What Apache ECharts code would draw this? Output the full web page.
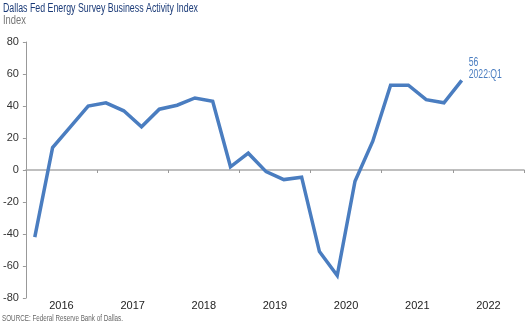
<!DOCTYPE html>
<html>
<head>
<meta charset="utf-8">
<script src="https://cdn.jsdelivr.net/npm/echarts@6/dist/echarts.min.js"></script>
<style>
  html, body { margin: 0; padding: 0; background: #fff; }
  #chart { width: 525px; height: 325px; }
</style>
</head>
<body>
<div id="chart"></div>
<script>
// Business activity index, quarterly, 2016:Q1 through 2022:Q1
const years = ['2016', '2017', '2018', '2019', '2020', '2021', '2022'];
const quarters = [];
years.forEach(function (y) { for (let q = 1; q <= 4; q++) quarters.push(y + ':Q' + q); });
const activity = [
  -42, 14, 27, 40,
  42, 37, 27, 38,
  40.5, 45, 43, 2,
  10.5, -1, -6, -4.5,
  -51, -66, -7, 18,
  53, 53, 44, 42,
  56
];
const yTicks = { min: -80, max: 80, step: 20 };
const lastIdx = activity.length - 1;

const FAMILY = '"Liberation Sans", Arial, sans-serif';
const NARROW = 0.72; // horizontal squeeze for a condensed look

const chart = echarts.init(document.getElementById('chart'), null, { renderer: 'canvas' });

// condensed text helper for headings, notes and callouts
function squeezedText(x, y, text, size, color, scale) {
  return {
    type: 'text', x: x, y: y, scaleX: scale || NARROW, silent: true,
    style: {
      text: text, font: size + 'px ' + FAMILY, fill: color,
      align: 'left', verticalAlign: 'top', textAlign: 'left', textVerticalAlign: 'top'
    }
  };
}

chart.setOption({
  animation: false,
  backgroundColor: '#fff',
  textStyle: { fontFamily: FAMILY },
  grid: { left: 22, right: 1, top: 42, bottom: 27, containLabel: false },
  xAxis: [
    { // year labels along the bottom
      type: 'category', data: years, position: 'bottom',
      boundaryGap: true,
      axisLine: { show: false, onZero: false },
      axisTick: { show: false },
      axisLabel: { margin: 2, fontFamily: FAMILY, fontSize: 11, color: '#222' },
      splitLine: { show: false }
    },
    { // quarterly axis drawn on the zero line
      type: 'category', data: quarters, position: 'bottom',
      boundaryGap: true,
      axisLine: { show: true, onZero: true, lineStyle: { color: '#aaa', width: 1.5 } },
      axisTick: { show: true, interval: 3, length: 3, inside: false, lineStyle: { color: '#999' } },
      axisLabel: { show: false },
      splitLine: { show: false }
    }
  ],
  yAxis: {
    type: 'value', min: yTicks.min, max: yTicks.max, interval: yTicks.step,
    axisLine: { show: true, lineStyle: { color: '#999' } },
    axisTick: { show: true, length: 3, lineStyle: { color: '#999' } },
    axisLabel: { margin: 7, fontFamily: FAMILY, fontSize: 11, color: '#333' },
    splitLine: { show: false }
  },
  series: [{
    type: 'line',
    xAxisIndex: 1,
    data: activity,
    showSymbol: false,
    symbol: 'none',
    lineStyle: { color: '#4a7dc0', width: 3.5, join: 'miter' }
  }]
});

// callout beside the latest reading, placed through the axis scales
const tip = chart.convertToPixel({ xAxisIndex: 1, yAxisIndex: 0 }, [quarters[lastIdx], activity[lastIdx]]);

chart.setOption({
  graphic: [
    squeezedText(3, 2, 'Dallas Fed Energy Survey Business Activity Index', 12.5, '#1b3b78', 0.705),
    squeezedText(3, 15, 'Index', 12, '#777', 0.78),
    squeezedText(2, 314, 'SOURCE: Federal Reserve Bank of Dallas.', 8.5, '#666', 0.74),
    squeezedText(tip[0] + 7, tip[1] - 24, String(activity[lastIdx]), 12, '#4a7dc0', 0.72),
    squeezedText(tip[0] + 7, tip[1] - 12, quarters[lastIdx], 12, '#4a7dc0', 0.72)
  ]
});
</script>
</body>
</html>
